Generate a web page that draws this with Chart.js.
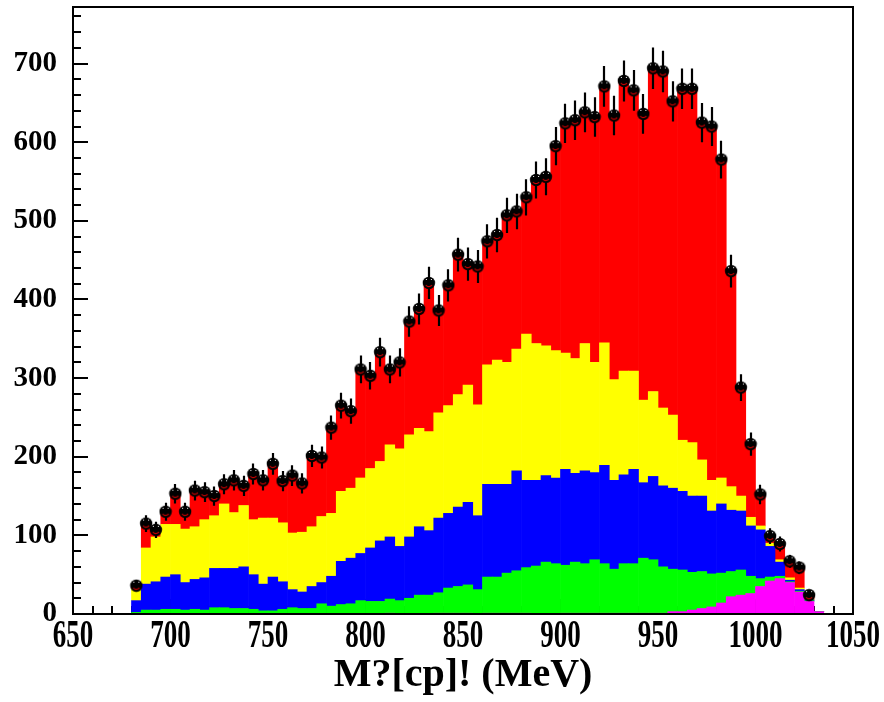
<!DOCTYPE html>
<html>
<head>
<meta charset="utf-8">
<script src="https://cdn.jsdelivr.net/npm/chart.js@4.4.1/dist/chart.umd.min.js"></script>
<style>
  html, body { margin: 0; padding: 0; background: #ffffff; }
  #wrap { width: 884px; height: 702px; }
</style>
</head>
<body>
<div id="wrap"><canvas id="c" width="884" height="702"></canvas></div>
<script>
// Lower edge of each 5 MeV mass bin
const massBins = [680,685,690,695,700,705,710,715,720,725,730,735,740,745,750,755,760,765,770,775,
  780,785,790,795,800,805,810,815,820,825,830,835,840,845,850,855,860,865,870,875,
  880,885,890,895,900,905,910,915,920,925,930,935,940,945,950,955,960,965,970,975,
  980,985,990,995,1000,1005,1010,1015,1020,1025,1030];
const binWidth = 5;

// Measured events per bin (null = empty bin)
const dataEvents = [36,115,107,130,153,130,157,155,150,165,170,163,178,170,191,169,176,166,201,199,
  237,265,258,311,303,333,311,320,372,388,421,386,418,457,445,442,474,482,507,512,
  530,552,556,595,624,628,638,632,671,634,678,666,636,694,690,652,668,668,625,620,
  578,436,288,216,152,99,89,67,59,24,null];

// Cumulative heights of the stacked simulation components (top of each colour band)
const topRed = [36,115,107,130,153,130,157,155,150,165,170,163,178,170,191,169,176,166,201,199,
  237,265,258,311,303,333,311,320,372,388,421,386,418,457,445,442,474,482,507,512,
  530,552,556,595,624,628,638,632,671,634,678,666,636,694,690,652,668,668,625,620,
  578,436,288,216,152,99,89,67,59,24,3];
const topYellow = [32,84,98,114,114,108,111,120,125,140,129,138,120,122,122,116,103,104,111,124,
  128,156,160,173,185,194,215,210,228,236,232,256,265,279,291,266,317,323,320,337,
  356,344,341,335,332,325,344,320,345,298,309,309,272,283,262,253,221,218,196,170,
  173,162,150,123,112,90,69,46,33,19,3];
const topBlue = [17,38,41,47,50,40,44,46,58,58,58,60,50,38,47,41,31,28,35,40,
  48,67,71,77,84,93,98,86,98,111,106,122,128,136,142,125,165,165,165,182,
  170,170,176,173,184,179,182,180,189,170,177,184,167,175,163,160,156,150,150,131,
  140,132,131,112,107,86,66,43,31,18,3];
const topGreen = [2,5,5,6,6,5,6,5,8,8,7,7,6,4,4,6,8,7,7,13,
  10,12,13,17,16,16,19,17,20,24,24,27,33,35,37,31,47,47,52,55,
  59,61,66,64,62,66,64,69,64,57,64,64,71,69,60,57,56,53,54,51,
  52,54,56,48,45,47,48,41,29,17,3];
const topMagenta = [0,0,0,0,0,0,0,0,0,0,0,0,0,0,0,0,0,0,0,0,
  0,0,0,0,0,0,1,0,0,0,0,1,1,1,1,0,1,1,1,1,
  1,0,0,0,1,1,1,1,1,1,1,1,1,1,1,3,3,5,7,9,
  14,22,24,26,35,42,45,40,28,16,3];

// Axis labels
const xTickLabels = ['650','700','750','800','850','900','950','1000','1050'];
const yTickLabels = ['0','100','200','300','400','500','600','700'];
const xTitle = 'M?[cp]! (MeV)';

const SERIF = "'Liberation Serif', 'Times New Roman', serif";
const X_MIN = 650, X_MAX = 1050, Y_MAX = 772;

const centers = massBins.map(b => b + binWidth / 2);

// Stacked band thickness built from the cumulative tops
function band(top, below) {
  return centers.map((c, i) => ({ x: c, y: Math.max(0, top[i] - (below ? below[i] : 0)) }));
}

const bandSets = [
  { label: 'magenta', color: '#ff00ff', data: band(topMagenta, null) },
  { label: 'green',   color: '#00ff00', data: band(topGreen, topMagenta) },
  { label: 'blue',    color: '#0000ff', data: band(topBlue, topGreen) },
  { label: 'yellow',  color: '#ffff00', data: band(topYellow, topBlue) },
  { label: 'red',     color: '#ff0000', data: band(topRed, topYellow) }
];

const points = [];
centers.forEach((c, i) => { if (dataEvents[i] !== null) points.push({ x: c, y: dataEvents[i] }); });

// Black dot marker with a small highlight, in the style of the histogram package
function makeMarker() {
  const c = document.createElement('canvas');
  c.width = 14; c.height = 14;
  const g = c.getContext('2d');
  g.fillStyle = '#000';
  g.beginPath(); g.arc(7, 7, 6.2, 0, 2 * Math.PI); g.fill();
  g.strokeStyle = '#d00000'; g.lineWidth = 1.1;
  g.beginPath(); g.arc(7, 6.8, 3.8, 0.2 * Math.PI, 0.8 * Math.PI); g.stroke();
  g.fillStyle = '#ffffff';
  g.fillRect(4, 3, 1, 1); g.fillRect(9, 3, 1, 1);
  return c;
}

// Frame, inward ticks, error bars and the stretched x labels
const axisDecor = {
  id: 'axisDecor',
  beforeDatasetsDraw(chart) {
    const { ctx, chartArea: a, scales: { x, y } } = chart;
    ctx.save();
    ctx.strokeStyle = '#000';
    ctx.lineWidth = 2;
    ctx.beginPath();
    for (let v = X_MIN; v <= X_MAX; v += 10) {
      const px = Math.round(x.getPixelForValue(v));
      const len = v % 50 === 0 ? 15 : 8;
      ctx.moveTo(px, a.bottom); ctx.lineTo(px, a.bottom - len);
    }
    for (let v = 0; v <= Y_MAX; v += 20) {
      const py = Math.round(y.getPixelForValue(v));
      const len = v % 100 === 0 ? 15 : 8;
      ctx.moveTo(a.left, py); ctx.lineTo(a.left + len, py);
    }
    ctx.stroke();
    ctx.restore();
  },
  beforeDatasetDraw(chart, args) {
    if (chart.data.datasets[args.index].type !== 'scatter') return;
    const { ctx, scales: { x, y } } = chart;
    ctx.save();
    ctx.strokeStyle = '#000';
    ctx.lineWidth = 2.2;
    ctx.beginPath();
    points.forEach(p => {
      const err = Math.sqrt(p.y); // Poisson uncertainty of the count
      const px = Math.round(x.getPixelForValue(p.x));
      ctx.moveTo(px, y.getPixelForValue(p.y + err));
      ctx.lineTo(px, y.getPixelForValue(Math.max(0, p.y - err)));
    });
    ctx.stroke();
    ctx.restore();
  },
  afterDraw(chart) {
    const { ctx, chartArea: a, scales: { x } } = chart;
    ctx.save();
    ctx.strokeStyle = '#000';
    ctx.lineWidth = 2;
    ctx.strokeRect(a.left, a.top, a.right - a.left, a.bottom - a.top);
    ctx.fillStyle = '#000';
    ctx.font = 'bold 27px ' + SERIF;
    ctx.textAlign = 'center';
    ctx.textBaseline = 'middle';
    xTickLabels.forEach(lbl => {
      const px = x.getPixelForValue(Number(lbl));
      ctx.save();
      ctx.translate(px, a.bottom + 23);
      ctx.scale(1, 1.45);
      ctx.fillText(lbl, 0, 0);
      ctx.restore();
    });
    ctx.restore();
  }
};

const datasets = bandSets.map(b => ({
  type: 'bar',
  label: b.label,
  data: b.data,
  backgroundColor: b.color,
  borderWidth: 0,
  barPercentage: 1,
  categoryPercentage: 1,
  stack: 'mc',
  order: 2
}));
datasets.push({
  type: 'scatter',
  label: 'data',
  data: points,
  pointStyle: makeMarker(),
  stack: 'data',
  order: 1
});

new Chart(document.getElementById('c'), {
  type: 'bar',
  data: { datasets },
  options: {
    responsive: false,
    animation: false,
    events: [],
    layout: { padding: { left: 0, right: 31, top: 7, bottom: 0 } },
    plugins: { legend: { display: false }, tooltip: { enabled: false } },
    scales: {
      x: {
        type: 'linear',
        min: X_MIN, max: X_MAX,
        stacked: true,
        offset: false,
        grid: { display: false, drawTicks: false },
        border: { display: false },
        ticks: { display: false },
        title: {
          display: true,
          text: xTitle,
          color: '#000',
          font: { family: SERIF, size: 40, weight: 'bold' },
          padding: { top: 0, bottom: 2 }
        },
        afterFit(scale) {
          scale.height = 88;
          scale.paddingLeft = 0; scale.paddingRight = 0;
        }
      },
      y: {
        type: 'linear',
        min: 0, max: Y_MAX,
        stacked: true,
        grid: { display: false, drawTicks: false },
        border: { display: false },
        afterBuildTicks(scale) { scale.ticks = yTickLabels.map(l => ({ value: Number(l) })); },
        ticks: {
          color: '#000',
          padding: 16,
          font: { family: SERIF, size: 29, weight: 'bold' },
          callback: v => String(v)
        },
        afterFit(scale) {
          scale.width = 73;
          scale.paddingTop = 0; scale.paddingBottom = 0;
        }
      }
    }
  },
  plugins: [axisDecor]
});
</script>
</body>
</html>
